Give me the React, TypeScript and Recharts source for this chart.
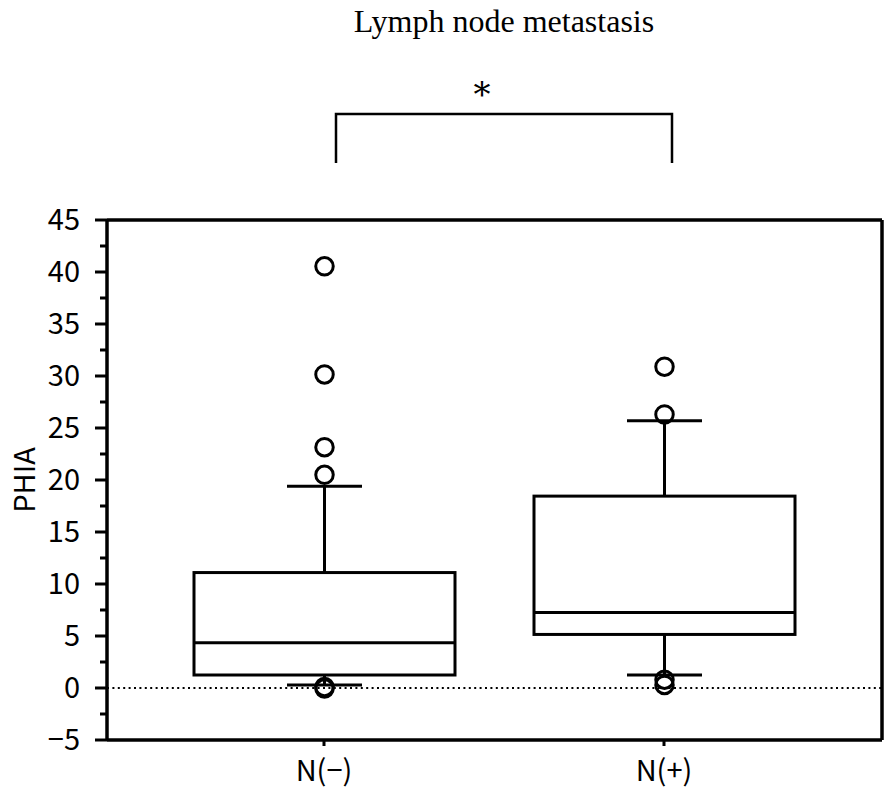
import React from 'react';
import { ComposedChart, Bar, Scatter, XAxis, YAxis, ReferenceLine } from 'recharts';

// ---- data ----
const categories = ['N(−)', 'N(+)'];
const lowerWhiskers = [0.3, 1.25];
const firstQuartiles = [1.25, 5.15];
const medians = [4.35, 7.25];
const thirdQuartiles = [11.1, 18.45];
const upperWhiskers = [19.4, 25.7];
const outliersNeg = [40.55, 30.15, 23.15, 20.5, 0.1, -0.05];
const outliersPos = [30.9, 26.3, 0.8, 0.3];
const yTicks = [
  -5, -2.5, 0, 2.5, 5, 7.5, 10, 12.5, 15, 17.5, 20, 22.5, 25, 27.5, 30, 32.5, 35, 37.5, 40, 42.5, 45,
];
const yDomain = [-5, 45];
const yLabel = 'PHIA';
const title = 'Lymph node metastasis';
const significance = '*';

const outlierSets = [outliersNeg, outliersPos];
const data = categories.map((name, i) => ({
  name,
  lo: lowerWhiskers[i],
  q1: firstQuartiles[i],
  med: medians[i],
  q3: thirdQuartiles[i],
  hi: upperWhiskers[i],
  outliers: outlierSets[i],
}));

const SANS = '"Noto Sans CJK JP", "Noto Sans", sans-serif';
const SERIF = '"Liberation Serif", "DejaVu Serif", serif';
const AXIS_W = 3.5;

const BoxShape = (props: any) => {
  const { x, y, width, height, payload } = props;
  if (!payload) return null;
  const top = Math.min(y, y + height);
  const h = Math.abs(height);
  const ppu = h / (payload.q3 - payload.q1);
  const toY = (v: number) => top + (payload.q3 - v) * ppu;
  const cx = x + width / 2;
  const capHalf = 37.5;
  const sw = 3;
  return (
    <g>
      <line x1={cx} x2={cx} y1={toY(payload.hi)} y2={toY(payload.q3)} stroke="#000" strokeWidth={sw} />
      <line x1={cx} x2={cx} y1={toY(payload.q1)} y2={toY(payload.lo)} stroke="#000" strokeWidth={sw} />
      <line x1={cx - capHalf} x2={cx + capHalf} y1={toY(payload.hi)} y2={toY(payload.hi)} stroke="#000" strokeWidth={sw} />
      <line x1={cx - capHalf} x2={cx + capHalf} y1={toY(payload.lo)} y2={toY(payload.lo)} stroke="#000" strokeWidth={sw} />
      <rect x={x} y={top} width={width} height={h} fill="none" stroke="#000" strokeWidth={sw} />
      <line x1={x} x2={x + width} y1={toY(payload.med)} y2={toY(payload.med)} stroke="#000" strokeWidth={sw} />
      {payload.outliers.map((v: number, k: number) => (
        <circle key={k} cx={cx} cy={toY(v)} r={8.75} fill="none" stroke="#000" strokeWidth={3} />
      ))}
    </g>
  );
};

const LeftTick = (props: any) => {
  const { x, y, payload } = props;
  const v = payload.value as number;
  const major = v % 5 === 0;
  const label = v < 0 ? `−${Math.abs(v)}` : `${v}`;
  return (
    <g>
      <line x1={x} x2={x - (major ? 12 : 7)} y1={y} y2={y} stroke="#000" strokeWidth={3} />
      {major && (
        <text x={x - 27} y={y} dy="0.36em" textAnchor="end" fontSize={29} fontFamily={SANS} fill="#000">
          {label}
        </text>
      )}
    </g>
  );
};

const Invisible = () => <g />;

export default function App() {
  return (
    <div style={{ position: 'absolute', left: 0, top: 0, width: 888, height: 796, background: '#fff' }}>
      <svg
        width={888}
        height={220}
        style={{ position: 'absolute', left: 0, top: 0, pointerEvents: 'none' }}
      >
        <text x={504} y={32} textAnchor="middle" fontSize={32} fontFamily={SERIF} fill="#000">
          {title}
        </text>
        <text x={482} y={106} textAnchor="middle" fontSize={34} fontFamily='"DejaVu Serif", serif' fill="#000">
          {significance}
        </text>
        <path d="M336 163 V114 H672 V163" fill="none" stroke="#000" strokeWidth={2.5} />
      </svg>
      <ComposedChart
        width={888}
        height={796}
        data={data}
        margin={{ top: 220, right: 0, bottom: 0, left: 0 }}
      >
        <XAxis
          dataKey="name"
          type="category"
          padding={{ left: 47, right: 48 }}
          height={56}
          tickSize={6}
          tickMargin={14}
          axisLine={{ stroke: '#000', strokeWidth: AXIS_W }}
          tickLine={{ stroke: '#000', strokeWidth: 3 }}
          tick={{ fontSize: 29, fill: '#000', fontFamily: SANS }}
          interval={0}
        />
        <XAxis
          xAxisId="top"
          dataKey="name"
          type="category"
          orientation="top"
          mirror
          height={8}
          padding={{ left: 47, right: 48 }}
          tickSize={7}
          tick={false}
          axisLine={{ stroke: '#000', strokeWidth: AXIS_W }}
          tickLine={{ stroke: '#000', strokeWidth: 3 }}
          interval={0}
        />
        <YAxis
          type="number"
          domain={yDomain}
          ticks={yTicks}
          interval={0}
          width={107}
          tickSize={0}
          tickMargin={0}
          tickLine={false}
          axisLine={{ stroke: '#000', strokeWidth: AXIS_W }}
          tick={<LeftTick />}
          label={{
            value: yLabel,
            angle: -90,
            position: 'insideLeft',
            offset: 25,
            style: { textAnchor: 'middle', fontSize: 29, fontFamily: SANS, fill: '#000' },
          }}
        />
        <YAxis
          yAxisId="r"
          orientation="right"
          type="number"
          domain={yDomain}
          ticks={yTicks}
          interval={0}
          width={6}
          tickSize={8}
          tick={false}
          axisLine={{ stroke: '#000', strokeWidth: AXIS_W }}
          tickLine={{ stroke: '#000', strokeWidth: 3 }}
        />
        <ReferenceLine y={0} stroke="#000" strokeWidth={2} strokeDasharray="2 3.4" />
        <Bar
          dataKey={(d: any) => [d.q1, d.q3]}
          barSize={261}
          shape={(p: any) => <BoxShape {...p} />}
          isAnimationActive={false}
        />
        <Scatter
          xAxisId="top"
          yAxisId="r"
          dataKey="med"
          shape={<Invisible />}
          legendType="none"
          isAnimationActive={false}
        />
      </ComposedChart>
    </div>
  );
}
